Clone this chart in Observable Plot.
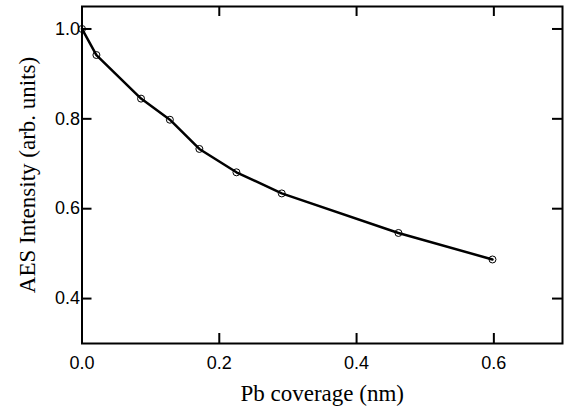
<!DOCTYPE html>
<html>
<head>
<meta charset="utf-8">
<script src="https://cdn.jsdelivr.net/npm/d3@7"></script>
<script src="https://cdn.jsdelivr.net/npm/@observablehq/plot@0.6"></script>
<style>
  html, body { margin: 0; padding: 0; background: white; }
</style>
</head>
<body>
<div id="chart"></div>
<script>
const coverage = [0.0, 0.021, 0.086, 0.128, 0.171, 0.225, 0.291, 0.461, 0.598];
const intensity = [1.0, 0.942, 0.845, 0.798, 0.733, 0.681, 0.634, 0.546, 0.487];
const xTicks = [0.0, 0.2, 0.4, 0.6];
const yTicks = [0.4, 0.6, 0.8, 1.0];
const xLabel = "Pb coverage (nm)";
const yLabel = "AES Intensity (arb. units)";

const data = coverage.map((c, i) => ({x: c, y: intensity[i]}));

const W = 564, H = 411;
const mL = 81.5, mR = 2, mT = 6, mB = 68;
const pw = W - mL - mR, ph = H - mT - mB;
const tickLen = 10;
const serif = "'Liberation Serif', 'Times New Roman', serif";

const chart = Plot.plot({
  width: W,
  height: H,
  marginLeft: mL,
  marginRight: mR,
  marginTop: mT,
  marginBottom: mB,
  style: {fontFamily: "'Liberation Sans', Arial, sans-serif", fontSize: "18px", background: "white", color: "black"},
  x: {domain: [0, 0.7], axis: null},
  y: {domain: [0.3, 1.05], axis: null},
  marks: [
    // inward ticks, all four sides
    Plot.ruleX(xTicks, {x: d => d, insetTop: ph - tickLen, strokeWidth: 2}),
    Plot.ruleX(xTicks, {x: d => d, insetBottom: ph - tickLen, strokeWidth: 2}),
    Plot.ruleY(yTicks, {y: d => d, insetRight: pw - tickLen, strokeWidth: 2}),
    Plot.ruleY(yTicks, {y: d => d, insetLeft: pw - tickLen, strokeWidth: 2}),
    // tick labels
    Plot.axisX({ticks: xTicks, tickSize: 0, tickPadding: 13, tickFormat: d3.format(".1f"), label: null, fontSize: 18}),
    Plot.axisY({ticks: yTicks, tickSize: 0, tickPadding: 2, tickFormat: d3.format(".1f"), label: null, fontSize: 18}),
    // axis titles
    Plot.text([xLabel], {text: d => d, frameAnchor: "bottom", lineAnchor: "bottom", textAnchor: "middle", dy: 57, fontSize: 23, fontFamily: serif}),
    Plot.text([yLabel], {text: d => d, frameAnchor: "left", textAnchor: "middle", lineAnchor: "middle", rotate: -90, dx: -54, fontSize: 23, fontFamily: serif}),
    // data
    Plot.line(data, {x: "x", y: "y", strokeWidth: 2.5}),
    Plot.dot(data, {x: "x", y: "y", r: 3.5, stroke: "black", strokeWidth: 1, fill: "none"}),
    Plot.frame({strokeWidth: 2})
  ]
});
document.getElementById("chart").appendChild(chart);
</script>
</body>
</html>
